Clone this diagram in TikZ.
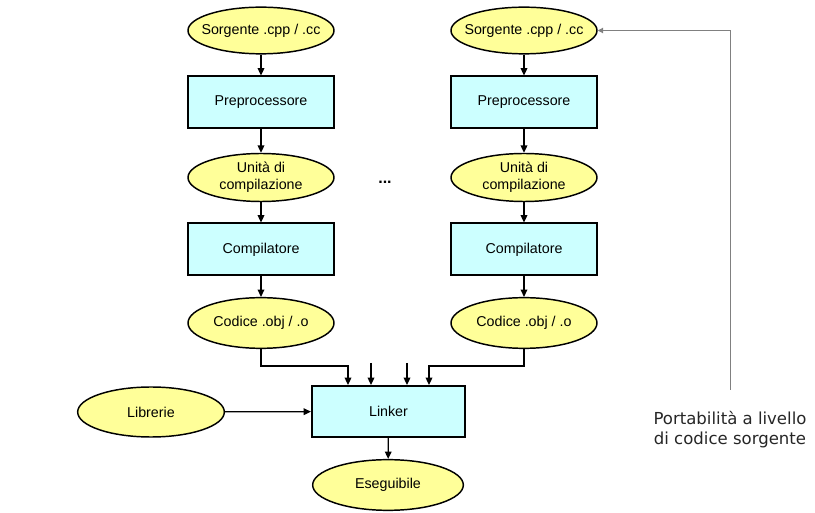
\documentclass[tikz,border=0pt]{standalone}
\usepackage{fontspec}
\setmainfont{Liberation Sans}
\newfontfamily\notefont{DejaVu Sans}
\usetikzlibrary{arrows.meta,shapes.geometric}
\definecolor{fileyellow}{HTML}{FFFF99}
\definecolor{toolcyan}{HTML}{CCFFFF}
\begin{document}
\begin{tikzpicture}[x=0.75pt,y=-0.75pt,
	file/.style={ellipse,draw=black,line width=1.1pt,fill=fileyellow,inner ysep=0pt,inner xsep=-10pt,
		minimum width=109.5pt,minimum height=36pt,align=center,
		font=\fontsize{10.7pt}{12.5pt}\selectfont},
	tool/.style={rectangle,draw=black,line width=1.5pt,fill=toolcyan,inner sep=0pt,
		minimum width=109.5pt,minimum height=39pt,
		font=\fontsize{10.7pt}{12.5pt}\selectfont},
	arr/.style={draw=black,line width=0.9pt,-{Triangle[length=5.5pt,width=5pt]}}]
	\useasboundingbox (0,0) rectangle (815,513);
	
	% first source file
	\node[file,minimum height=35pt] (srcA) at (261,30.5) {Sorgente .cpp / .cc};
	\node[tool] (preA) at (261,102.5) {Preprocessore};
	\node[file] (unitA) at (261,177.5) {Unità di\\compilazione};
	\node[tool] (compA) at (261,249.5) {Compilatore};
	\node[file,minimum height=38pt] (objA) at (261,323) {Codice .obj / .o};
	
	% last source file
	\node[file,minimum height=35pt] (srcB) at (524,30.5) {Sorgente .cpp / .cc};
	\node[tool] (preB) at (524,102.5) {Preprocessore};
	\node[file] (unitB) at (524,177.5) {Unità di\\compilazione};
	\node[tool] (compB) at (524,249.5) {Compilatore};
	\node[file,minimum height=38pt] (objB) at (524,323) {Codice .obj / .o};
	
	\node[font=\fontsize{12pt}{14pt}\selectfont\bfseries] (dots) at (385,182) {...};
	
	\node[file,minimum width=110pt,minimum height=37.5pt] (libs) at (151,412) {Librerie};
	\node[tool,minimum width=114.75pt,minimum height=38.25pt] (linker) at (388.5,411.5) {Linker};
	\node[file,minimum width=113pt,minimum height=38pt] (exe) at (388,485) {Eseguibile};
	
	\draw[arr] (srcA) -- (preA);
	\draw[arr] (preA) -- (unitA);
	\draw[arr] (unitA) -- (compA);
	\draw[arr] (compA) -- (objA);
	\draw[arr] (srcB) -- (preB);
	\draw[arr] (preB) -- (unitB);
	\draw[arr] (unitB) -- (compB);
	\draw[arr] (compB) -- (objB);
	
	% inputs of the linker
	\coordinate (inA) at (348,366);
	\coordinate (inB) at (371,363);
	\coordinate (inC) at (407,363);
	\coordinate (inD) at (429,366);
	\draw[arr] (objA.south) |- (inA) -- (inA |- linker.north);
	\draw[arr] (inB) -- (inB |- linker.north);
	\draw[arr] (inC) -- (inC |- linker.north);
	\draw[arr] (objB.south) |- (inD) -- (inD |- linker.north);
	\draw[arr] (libs) -- (linker);
	\draw[arr] (linker) -- (exe);
	
	% note on portability
	\coordinate (porta) at (730,390);
	\draw[draw=gray,line width=0.75pt,-{Triangle[length=4pt,width=4pt]}] (porta) |- (srcB.east);
	\node[anchor=north,align=center,inner sep=0pt,font=\notefont\fontsize{12.4pt}{15pt}\selectfont,text=black!85]
		(note) at (730,411) {Portabilità a livello\\di codice sorgente};
\end{tikzpicture}
\end{document}
